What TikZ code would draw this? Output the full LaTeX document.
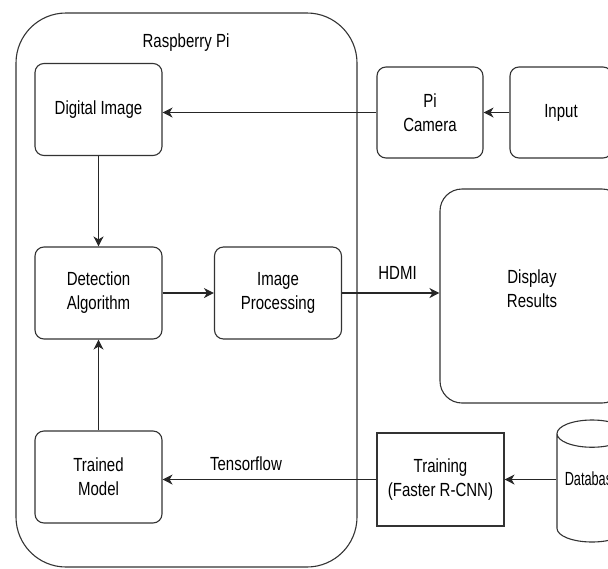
\documentclass[tikz,border=0pt]{standalone}
\usepackage{fontspec}
\setmainfont{Liberation Sans}[FakeStretch=0.79]
\newfontfamily\dbschrift{Liberation Sans}[FakeStretch=0.67]
\usetikzlibrary{arrows.meta, shapes.geometric}

\begin{document}
\begin{tikzpicture}[x=1pt, y=-1pt,
		>={Stealth[length=10pt, width=10pt, inset=3pt]},   %Pfeilspitzen
		box/.style={draw=black!80, line width=1.1pt, rounded corners=9pt, minimum width=127pt, minimum height=92pt, inner sep=0pt, align=center},
		pfeil/.style={->, draw=black!85, line width=1.1pt},
		font=\fontsize{19}{24}\selectfont]
		%Bildbereich
		\useasboundingbox (0,0) rectangle (608,568);
		\clip (0,0) rectangle (608,568);
		%Rahmen Raspberry Pi
		\node[draw=black!80, line width=1.1pt, rounded corners=50pt, minimum width=341pt, minimum height=554pt] (rpi) at (186.5,290) {};
		\node (rpititel) at (186,43) {Raspberry Pi};
		%Bloecke
		\node[box] (digital) at (98.5,109.5) {Digital Image};
		\node[box] (detect) at (98.5,293) {Detection\\Algorithm};
		\node[box] (improc) at (278,293) {Image\\Processing};
		\node[box] (trained) at (98.5,477) {Trained\\Model};
		\node[box, minimum width=106pt, minimum height=91pt] (picam) at (430,112.5) {Pi\\Camera};
		\node[box, minimum width=102pt, minimum height=91pt] (input) at (561,112.5) {Input};
		\node[box, rounded corners=22pt, minimum width=184pt, minimum height=214pt] (display) at (532,296) {Display\\Results\\[-9pt]};
		\node[box, sharp corners, minimum height=93pt] (training) at (440.5,479.5) {Training\\(Faster R-CNN)};
		\node[draw=black!80, line width=1.1pt, cylinder, shape border rotate=90, aspect=0.5, minimum width=70pt, minimum height=122pt, inner sep=0pt, text depth=18pt, anchor=shape center, font=\dbschrift\fontsize{19}{24}\selectfont] (db) at (592,481) {Database};
		%Pfeile
		\draw[pfeil] (picam.west) -- (picam.west -| digital.east);
		\draw[pfeil] (input.west) -- (picam.east);
		\draw[pfeil] (digital) -- (detect);
		\draw[pfeil] (trained) -- (detect);
		\draw[pfeil] (detect) -- (improc);
		\draw[pfeil] (improc.east) -- (improc.east -| display.west) node[pos=0.57, above=10pt] {HDMI};
		\draw[pfeil] (training.west) -- (training.west -| trained.east) node[pos=0.61, above=5pt] {Tensorflow};
		\draw[pfeil] (db.west |- training.east) -- (training.east);
\end{tikzpicture}
\end{document}
